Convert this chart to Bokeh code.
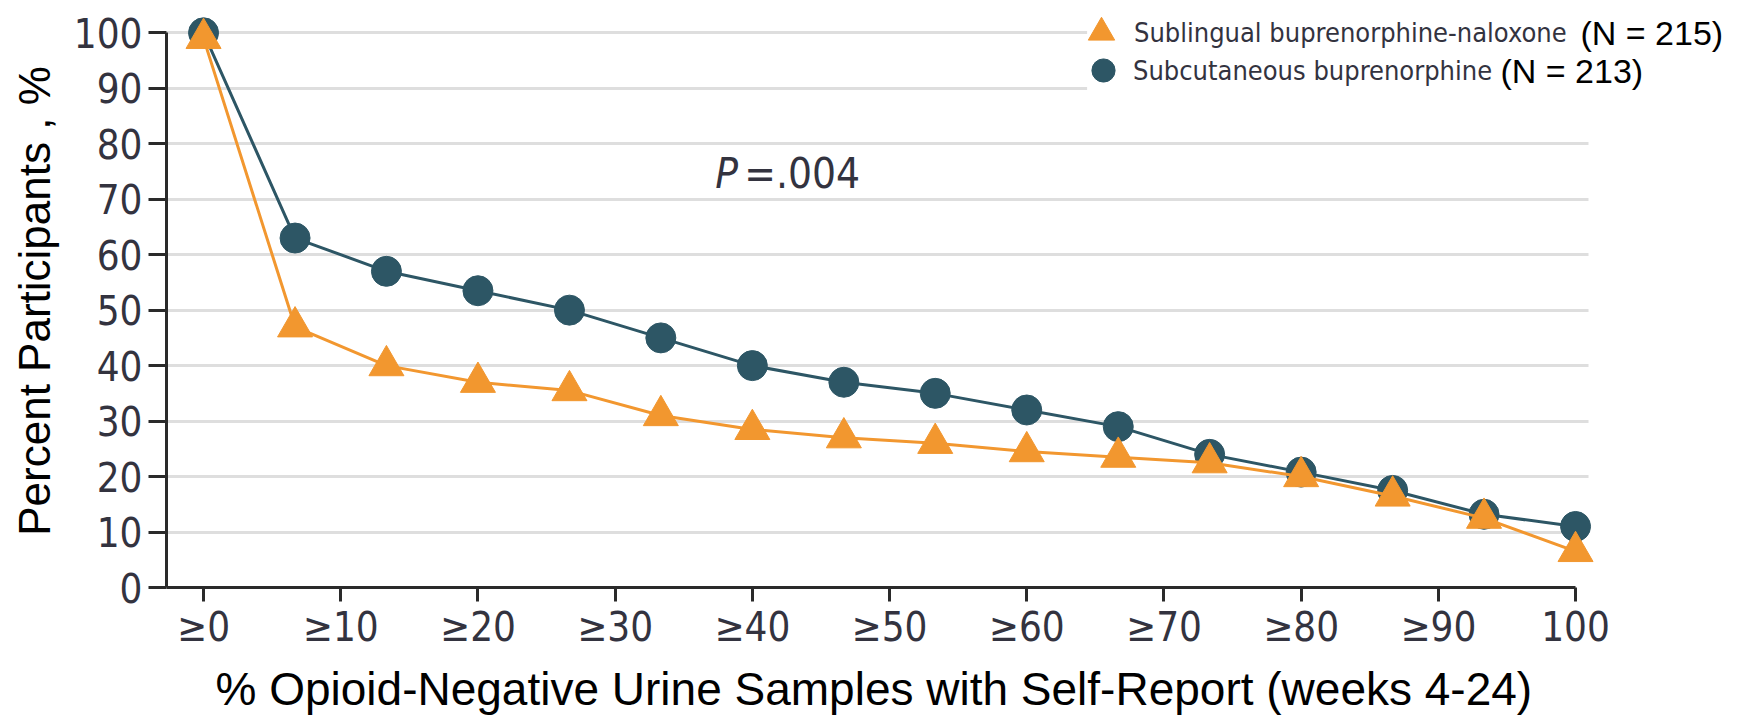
from bokeh.plotting import figure
from bokeh.models import Range1d, FixedTicker, Legend, LegendItem, Label, BoxAnnotation, Title
from bokeh.embed import file_html
from bokeh.resources import INLINE

# ---- data ----
x_pos = [0, 6.67, 13.33, 20, 26.67, 33.33, 40, 46.67, 53.33, 60, 66.67, 73.33, 80, 86.67, 93.33, 100]
sublingual = [99, 47, 40, 37, 35.5, 31, 28.5, 27, 26, 24.5, 23.5, 22.5, 20, 16.5, 12.5, 6.5]
subcutaneous = [100, 63, 57, 53.5, 50, 45, 40, 37, 35, 32, 29, 24, 20.8, 17.5, 13.2, 11]
x_ticks = [0, 10, 20, 30, 40, 50, 60, 70, 80, 90, 100]
x_tick_labels = ["≥0", "≥10", "≥20", "≥30", "≥40", "≥50", "≥60", "≥70", "≥80", "≥90", "100"]
y_ticks = [0, 10, 20, 30, 40, 50, 60, 70, 80, 90, 100]
series_names = ["Sublingual buprenorphine-naloxone", "Subcutaneous buprenorphine"]
series_n = ["(N = 215)", "(N = 213)"]
p_value_text = "=.004"
x_label = "% Opioid-Negative Urine Samples with Self-Report (weeks 4-24)"
y_label = "Percent Participants , %"

ORANGE = "#F2972F"
TEAL = "#2D5665"
TICK_COL = "#33333F"
AXIS_COL = "#2a2a2a"
NARROW = "Liberation Sans Narrow, DejaVu Sans Condensed, Liberation Sans"
SANS = "Liberation Sans"

X0, X1 = -2.70, 111.95
p = figure(width=1739, height=722, output_backend="svg", toolbar_location=None,
           x_range=Range1d(X0, X1), y_range=Range1d(0, 103.3))
p.min_border_left = 166
p.min_border_right = 0
p.min_border_top = 14
p.min_border_bottom = 134
p.outline_line_color = None
p.background_fill_color = "white"

# grid
p.xgrid.grid_line_color = None
p.ygrid.grid_line_color = "#dedede"
p.ygrid.grid_line_width = 3
p.ygrid.ticker = FixedTicker(ticks=y_ticks[1:])
p.ygrid.cross_bounds = (X0, 100.95)

# axes
xa = p.xaxis[0]
xa.ticker = FixedTicker(ticks=x_ticks)
xa.major_label_overrides = {t: l for t, l in zip(x_ticks, x_tick_labels)}
xa.bounds = (X0, 100)
ya = p.yaxis[0]
ya.ticker = FixedTicker(ticks=y_ticks)
ya.bounds = (0, 100)
for ax in (xa, ya):
    ax.axis_line_color = AXIS_COL
    ax.axis_line_width = 3
    ax.major_tick_line_color = AXIS_COL
    ax.major_tick_line_width = 3
    ax.minor_tick_line_color = None
    ax.major_tick_in = 0
    ax.major_label_text_font = NARROW
    ax.major_label_text_font_size = "40px"
    ax.major_label_text_color = TICK_COL
    ax.axis_label_text_font = SANS
    ax.axis_label_text_font_style = "normal"
    ax.axis_label_text_color = "black"
xa.major_tick_out = 14
ya.major_tick_out = 18
xa.major_label_standoff = 2
xa.major_label_text_line_height = 0.9
ya.major_label_standoff = 6
ya.axis_label = y_label
ya.axis_label_text_font_size = "44px"
ya.axis_label_standoff = 12

# x-axis title, placed from the left of the frame as in the reference
p.add_layout(Title(text=x_label, align="left", offset=49, text_font=SANS,
                   text_font_size="46px", text_font_style="normal", text_color="black",
                   text_line_height=0.9, standoff=16), "below")

# series
p.line(x_pos, subcutaneous, line_color=TEAL, line_width=3)
circ_r = p.scatter(x_pos, subcutaneous, marker="circle", size=30, fill_color=TEAL, line_color=TEAL)
p.line(x_pos, sublingual, line_color=ORANGE, line_width=3)
tri_r = p.scatter(x_pos, sublingual, marker="triangle", size=35, fill_color=ORANGE, line_color=ORANGE)

# white box behind legend
p.add_layout(BoxAnnotation(left=64.4, bottom=85, fill_color="white", fill_alpha=1.0,
                           line_alpha=0, level="underlay"))

common = dict(orientation="vertical", spacing=0, padding=0, margin=0,
              label_text_font=NARROW, label_text_font_size="27px",
              label_text_color=TICK_COL, label_text_baseline="middle",
              background_fill_alpha=0, border_line_alpha=0)
leg1 = Legend(items=[LegendItem(label=series_names[0], renderers=[tri_r])],
              location=(902, 522), glyph_width=66, glyph_height=66, label_height=66,
              label_standoff=0, **common)
leg2 = Legend(items=[LegendItem(label=series_names[1], renderers=[circ_r])],
              location=(908, 488), glyph_width=58, glyph_height=58, label_height=58,
              label_standoff=1, **common)
p.add_layout(leg1)
p.add_layout(leg2)

p.add_layout(Label(x=1414, y=555, x_units="screen", y_units="screen", text=series_n[0],
                   text_font=SANS, text_font_size="34px", text_color="black",
                   text_baseline="middle"))
p.add_layout(Label(x=1334, y=517, x_units="screen", y_units="screen", text=series_n[1],
                   text_font=SANS, text_font_size="34px", text_color="black",
                   text_baseline="middle"))

# P value annotation
p.add_layout(Label(x=37.3, y=74.7, text="P", text_font=NARROW, text_font_style="italic",
                   text_font_size="42px", text_color=TICK_COL, text_baseline="middle"))
p.add_layout(Label(x=37.3, y=74.7, x_offset=29, text=p_value_text, text_font=NARROW,
                   text_font_size="42px", text_color=TICK_COL, text_baseline="middle"))

open("out.html", "w").write(file_html(p, INLINE))
